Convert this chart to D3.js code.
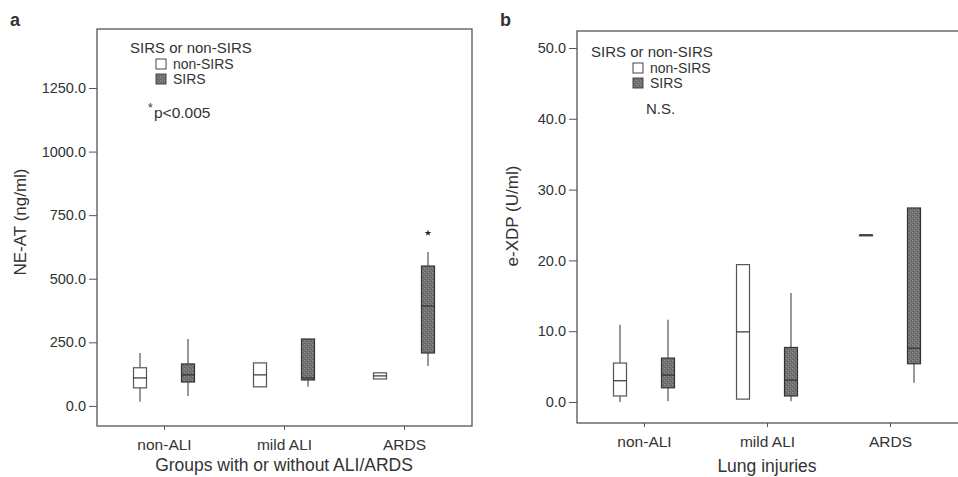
<!DOCTYPE html>
<html>
<head>
<meta charset="utf-8">
<script src="https://cdn.jsdelivr.net/npm/d3@7"></script>
<style>
  body { margin: 0; background: #fff; }
  text { font-family: "Liberation Sans", Arial, sans-serif; fill: #333; }
</style>
</head>
<body>
<script>
// categories and groups
let categories = ['non-ALI', 'mild ALI', 'ARDS'];
let groups = ['non-SIRS', 'SIRS'];

// box stats [min, q1, median, q3, max], per category then per group
let neatNonSirs = [[16, 71, 110, 150, 208], [75, 75, 122, 169, 169], [106, 106, 118, 130, 130]];
let neatSirs = [[39, 94, 122, 165, 263], [75, 102, 110, 263, 263], [157, 208, 393, 550, 605]];
let neatOutliers = [{ cat: 'ARDS', group: 'SIRS', value: 680 }];
let neatTicks = [0, 250, 500, 750, 1000, 1250];

let xdpNonSirs = [[0.0, 0.85, 3.0, 5.5, 10.9], [0.4, 0.4, 9.9, 19.4, 19.4], [23.6, 23.6, 23.6, 23.6, 23.6]];
let xdpSirs = [[0.1, 2.0, 3.8, 6.2, 11.6], [0.1, 0.85, 3.1, 7.7, 15.4], [2.7, 5.4, 7.6, 27.4, 27.4]];
let xdpTicks = [0, 10, 20, 30, 40, 50];

let svg = d3.select('body').append('svg').attr('width', 958).attr('height', 477);

// speckled grey fill for SIRS boxes
let defs = svg.append('defs');
let pat = defs.append('pattern').attr('id', 'speck').attr('patternUnits', 'userSpaceOnUse')
  .attr('width', 4).attr('height', 4);
pat.append('rect').attr('width', 4).attr('height', 4).attr('fill', '#737373');
pat.append('rect').attr('x', 0).attr('y', 0).attr('width', 1).attr('height', 1).attr('fill', '#8e8e8e');
pat.append('rect').attr('x', 2).attr('y', 2).attr('width', 1).attr('height', 1).attr('fill', '#8e8e8e');
pat.append('rect').attr('x', 1).attr('y', 3).attr('width', 1).attr('height', 1).attr('fill', '#5a5a5a');
pat.append('rect').attr('x', 3).attr('y', 1).attr('width', 1).attr('height', 1).attr('fill', '#5a5a5a');

let fills = { 'non-SIRS': '#fff', 'SIRS': 'url(#speck)' };
let ink = '#4a4a4a';

function drawPanel(cfg) {
  let g = svg.append('g');
  let f = cfg.frame;

  let y = d3.scaleLinear().domain(cfg.yDomain).range([f.bottom, f.top]);
  let x = d3.scalePoint().domain(categories).range(cfg.xRange);
  let off = d3.scalePoint().domain(groups).range([-24, 24]);
  let bw = 13;

  // frame
  g.append('rect')
    .attr('x', f.left).attr('y', f.top)
    .attr('width', f.right - f.left).attr('height', f.bottom - f.top)
    .attr('fill', 'none').attr('stroke', '#555').attr('stroke-width', 1.3);

  // y axis
  let yAxis = d3.axisLeft(y).tickValues(cfg.ticks).tickFormat(d3.format('.1f'))
    .tickSize(8).tickPadding(3);
  let ya = g.append('g').attr('transform', 'translate(' + f.left + ',0)').call(yAxis);
  ya.select('.domain').remove();
  ya.selectAll('line').attr('stroke', '#555');
  ya.selectAll('text').style('font-size', '14.5px').attr('fill', ink);

  // x axis
  let xAxis = d3.axisBottom(x).tickSize(4).tickPadding(9);
  let xa = g.append('g').attr('transform', 'translate(0,' + f.bottom + ')').call(xAxis);
  xa.select('.domain').remove();
  xa.selectAll('line').attr('stroke', '#555');
  xa.selectAll('text').style('font-size', '15.5px').attr('fill', ink);

  // boxes
  let rows = [];
  categories.forEach(function (c, i) {
    rows.push({ cat: c, group: 'non-SIRS', s: cfg.nonSirs[i] });
    rows.push({ cat: c, group: 'SIRS', s: cfg.sirs[i] });
  });

  let box = g.selectAll('.box').data(rows).enter().append('g').attr('class', 'box');
  function cx(d) { return x(d.cat) + off(d.group); }

  box.append('line')
    .attr('x1', cx).attr('x2', cx)
    .attr('y1', function (d) { return y(d.s[4]); })
    .attr('y2', function (d) { return y(d.s[0]); })
    .attr('stroke', '#555').attr('stroke-width', 1.2);
  box.append('rect')
    .attr('x', function (d) { return cx(d) - bw / 2; })
    .attr('y', function (d) { return y(d.s[3]); })
    .attr('width', bw)
    .attr('height', function (d) { return Math.max(1, y(d.s[1]) - y(d.s[3])); })
    .attr('fill', function (d) { return fills[d.group]; })
    .attr('stroke', function (d) { return d.group === 'SIRS' ? '#333' : '#555'; })
    .attr('stroke-width', 1.2);
  box.append('line')
    .attr('x1', function (d) { return cx(d) - bw / 2; })
    .attr('x2', function (d) { return cx(d) + bw / 2; })
    .attr('y1', function (d) { return y(d.s[2]); })
    .attr('y2', function (d) { return y(d.s[2]); })
    .attr('stroke', '#333').attr('stroke-width', 1.2);

  // outliers
  g.selectAll('.out').data(cfg.outliers).enter().append('path')
    .attr('d', d3.symbol().type(d3.symbolStar).size(14))
    .attr('transform', function (d) { return 'translate(' + (x(d.cat) + off(d.group)) + ',' + y(d.value) + ')'; })
    .attr('fill', '#222');

  // titles
  g.append('text').attr('x', cfg.label[0]).attr('y', cfg.label[1])
    .style('font-size', '18px').style('font-weight', 'bold').attr('fill', '#222').text(cfg.letter);
  g.append('text')
    .attr('transform', 'translate(' + cfg.yTitle[0] + ',' + cfg.yTitle[1] + ') rotate(-90)')
    .attr('text-anchor', 'middle').style('font-size', '17px').attr('fill', ink).text(cfg.yLabel);
  g.append('text').attr('x', cfg.xTitle[0]).attr('y', cfg.xTitle[1])
    .attr('text-anchor', 'middle').style('font-size', '17.5px').attr('fill', ink).text(cfg.xLabel);

  // legend
  let L = cfg.legend;
  g.append('text').attr('x', L.x).attr('y', L.y).style('font-size', '15px').attr('fill', ink)
    .text('SIRS or non-SIRS');
  groups.forEach(function (gr, i) {
    let yy = L.y + 6 + i * 15;
    g.append('rect').attr('x', L.x + L.indent).attr('y', yy).attr('width', 10).attr('height', 10)
      .attr('fill', fills[gr]).attr('stroke', '#444').attr('stroke-width', 1);
    g.append('text').attr('x', L.x + L.indent + 17).attr('y', yy + 10)
      .style('font-size', '14px').attr('fill', ink).text(gr);
  });
  return g;
}

let ga = drawPanel({
  frame: { left: 97, top: 29, right: 472, bottom: 426 },
  yDomain: [-79, 1482], ticks: neatTicks, xRange: [164, 404],
  nonSirs: neatNonSirs, sirs: neatSirs, outliers: neatOutliers,
  letter: 'a', label: [10, 26], yLabel: 'NE-AT (ng/ml)', yTitle: [26, 222],
  xLabel: 'Groups with or without ALI/ARDS', xTitle: [284, 471],
  legend: { x: 130, y: 53, indent: 26 }
});
ga.append('text').attr('x', 148).attr('y', 112).style('font-size', '12px').attr('fill', '#222').text('*');
ga.append('text').attr('x', 154).attr('y', 118).style('font-size', '15.5px').attr('fill', ink).text('p<0.005');

let gb = drawPanel({
  frame: { left: 577, top: 31, right: 964, bottom: 423 },
  yDomain: [-2.97, 52.4], ticks: xdpTicks, xRange: [644, 890],
  nonSirs: xdpNonSirs, sirs: xdpSirs, outliers: [],
  letter: 'b', label: [500, 26], yLabel: 'e-XDP (U/ml)', yTitle: [518, 216],
  xLabel: 'Lung injuries', xTitle: [767, 472],
  legend: { x: 591, y: 57, indent: 42 }
});
gb.append('text').attr('x', 646).attr('y', 114).style('font-size', '15px').attr('fill', ink).text('N.S.');
</script>
</body>
</html>
